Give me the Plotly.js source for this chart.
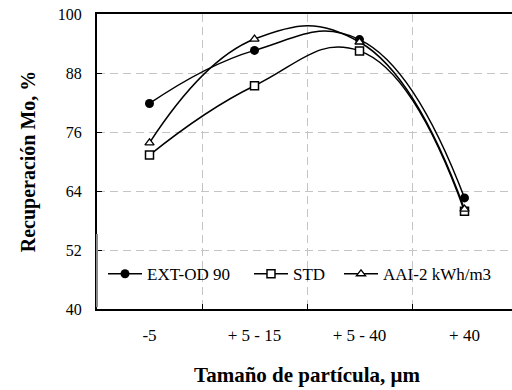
<!DOCTYPE html>
<html>
<head>
<meta charset="utf-8">
<script src="https://cdn.plot.ly/plotly-3.0.1.min.js"></script>
<style>
html,body{margin:0;padding:0;overflow:hidden;background:#fff;}
#chart{width:520px;height:390px;}
</style>
</head>
<body>
<div id="chart"></div>
<script>
const categories = ["-5", "+ 5 - 15", "+ 5 - 40", "+ 40"];
const extOd90 = [81.8, 92.6, 94.8, 62.6];
const std = [71.3, 85.4, 92.5, 59.9];
const aai2 = [73.8, 94.9, 94.3, 60.3];
const seriesNames = ["EXT-OD 90", "STD", "AAI-2 kWh/m3"];

const FONT = "Liberation Serif";
const lineStyle = {color: "#000", width: 1.5, shape: "spline", smoothing: 1.3};

const traces = [
  {x: categories, y: extOd90, name: seriesNames[0], type: "scatter", mode: "lines+markers", legend: "legend",
   line: lineStyle, marker: {symbol: "circle", size: 9, color: "#000"}},
  {x: categories, y: std, name: seriesNames[1], type: "scatter", mode: "lines+markers", legend: "legend2",
   line: lineStyle, marker: {symbol: "square", size: 8, color: "#fff", line: {color: "#000", width: 1.5}}},
  {x: categories, y: aai2, name: seriesNames[2], type: "scatter", mode: "lines+markers", legend: "legend3",
   line: lineStyle, marker: {symbol: "triangle-up", size: 8, color: "#fff", line: {color: "#000", width: 1.3}}}
];

function legendAt(xp) {
  return {orientation: "h", x: xp, xanchor: "left", y: 0.118, yanchor: "middle", itemwidth: 34,
          bgcolor: "rgba(0,0,0,0)", font: {family: FONT, size: 17, color: "#000"}};
}

const layout = {
  width: 520, height: 390,
  margin: {l: 97, r: 3, t: 14, b: 81},
  paper_bgcolor: "#fff", plot_bgcolor: "#fff",
  font: {family: FONT, size: 16, color: "#000"},
  showlegend: true,
  legend: legendAt(0.0143),
  legend2: legendAt(0.3619),
  legend3: legendAt(0.5762),
  xaxis: {
    type: "category", range: [-0.5, 3.5], tickson: "boundaries",
    ticks: "inside", ticklen: 5, tickcolor: "#000", tickwidth: 1,
    showgrid: true, gridcolor: "#c4c4c4", griddash: "8px,5px", gridwidth: 1,
    showline: true, linecolor: "#000", linewidth: 2, mirror: true,
    tickfont: {family: FONT, size: 17, color: "#000"}, ticklabelstandoff: 10,
    title: {text: "<b>Tamaño de partícula, μm</b>", font: {family: FONT, size: 21, color: "#000"}, standoff: 23},
    fixedrange: true, zeroline: false
  },
  yaxis: {
    range: [40, 100], dtick: 12, tick0: 40,
    ticks: "inside", ticklen: 5, tickcolor: "#000", tickwidth: 1,
    showgrid: true, gridcolor: "#c4c4c4", griddash: "8px,5px", gridwidth: 1,
    showline: true, linecolor: "#000", linewidth: 2, mirror: true,
    tickfont: {family: FONT, size: 16, color: "#000"}, ticklabelstandoff: 10,
    title: {text: "<b>Recuperación Mo, %</b>", font: {family: FONT, size: 20, color: "#000"}, standoff: 17},
    fixedrange: true, zeroline: false
  },
  shapes: [
    {type: "rect", xref: "paper", yref: "paper", x0: 0, x1: 1, y0: 0, y1: 0.254,
     fillcolor: "#fff", line: {width: 0}, layer: "between"},
    {type: "line", xref: "paper", yref: "paper", x0: 0, x1: 0, y0: 0.006, y1: 0.254,
     line: {color: "#8a8a8a", width: 2}, layer: "above"}
  ]
};

Plotly.newPlot("chart", traces, layout, {staticPlot: true, displayModeBar: false});
</script>
</body>
</html>
